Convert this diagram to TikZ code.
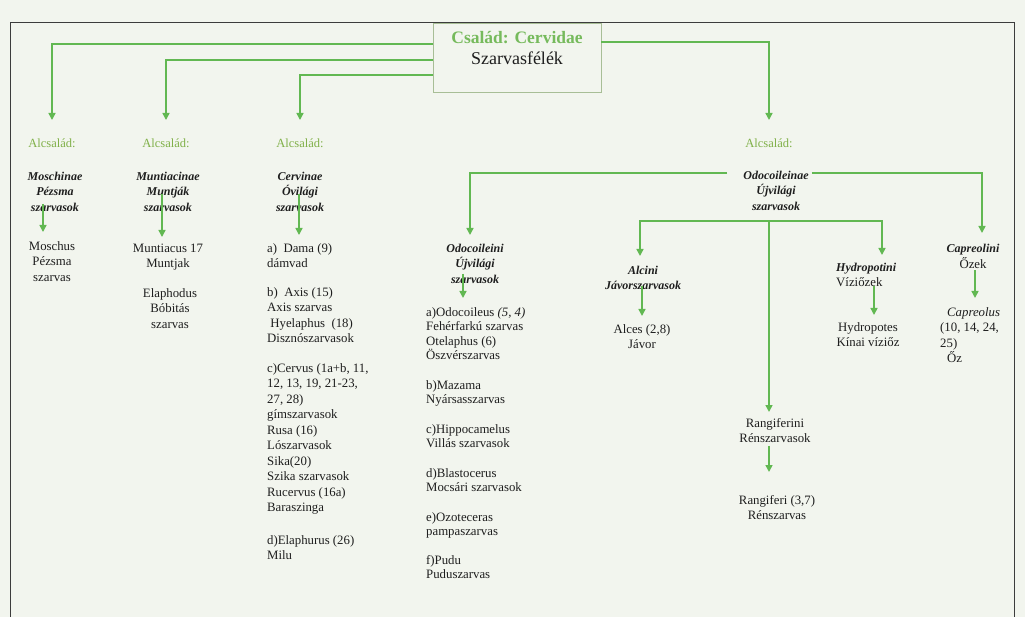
\documentclass[tikz,border=0pt]{standalone}
\usepackage{fontspec}
\setmainfont{Liberation Serif}
\usetikzlibrary{arrows.meta}
\definecolor{bgc}{RGB}{242,245,238}
\definecolor{arrgreen}{RGB}{98,184,82}
\definecolor{alcgreen}{RGB}{128,176,72}
\definecolor{famgreen}{RGB}{118,186,92}
\definecolor{boxc}{RGB}{168,190,150}
\definecolor{framec}{RGB}{60,60,60}
\definecolor{txtc}{RGB}{30,30,30}
\tikzset{
  txt/.style={font=\fontsize{12.8}{15.5}\selectfont, inner sep=0pt, anchor=north, align=center, text=txtc},
  txtl/.style={txt, anchor=north west, align=left},
  tight/.style={font=\fontsize{12.8}{14.5}\selectfont},
  head/.style={txt, font=\fontsize{12}{15.5}\selectfont\bfseries\itshape},
  alc/.style={txt, font=\fontsize{12.5}{15.5}\selectfont, text=alcgreen},
  ln/.style={draw=arrgreen, line width=1.5pt},
  arr/.style={ln, -{Triangle[width=7pt,length=7pt]}},
  fambox/.style={draw=boxc, line width=0.8pt, minimum width=168pt, minimum height=69pt, inner sep=0pt}
}
\begin{document}
\begin{tikzpicture}[x=1pt,y=-1pt]
\fill[bgc] (0,0) rectangle (1025,617);
\useasboundingbox (0,0) rectangle (1025,617);
% frame
\draw[framec, line width=1pt] (10,625) -- (10,23) -- (1014,23) -- (1014,625);
% family box
\node[fambox, fill=bgc] (fam) at (517,57.5) {};
\node[anchor=base, inner sep=0pt, text=famgreen, font=\fontsize{17.5}{20}\selectfont\bfseries] (famt1) at (517,44) {Család: Cervidae};
\node[anchor=base, inner sep=0pt, text=txtc, font=\fontsize{18}{20}\selectfont] (famt2) at (517,65) {Szarvasfélék};
% subfamily labels
\node[alc] (alc1) at (52,136) {\strut Alcsalád:};
\node[alc] (alc2) at (166,136) {\strut Alcsalád:};
\node[alc] (alc3) at (300,136) {\strut Alcsalád:};
\node[alc] (alc4) at (769,136) {\strut Alcsalád:};
% headings
\node[head] (h1) at (55,169) {\strut Moschinae\\Pézsma\\szarvasok};
\node[head] (h2) at (168,169) {\strut Muntiacinae\\Muntják\\szarvasok};
\node[head] (h3) at (300,169) {\strut Cervinae\\Óvilági\\szarvasok};
\node[head] (h4) at (776,168) {\strut Odocoileinae\\Újvilági\\szarvasok};
% column 1
\node[txt] (l1) at (52,239) {\strut Moschus\\Pézsma\\szarvas};
% column 2
\node[txt] (l2a) at (168,241) {\strut Muntiacus 17\\Muntjak};
\node[txt] (l2b) at (170,286) {\strut Elaphodus\\Bóbitás\\szarvas};
% column 3
\node[txtl] (l3a) at (267,241) {\strut a)\ \ Dama (9)\\dámvad};
\node[txtl] (l3b) at (267,285) {\strut b)\ \ Axis (15)\\Axis szarvas\\\ Hyelaphus\ \ (18)\\Disznószarvasok};
\node[txtl] (l3c) at (267,361) {\strut c)Cervus (1a+b, 11,\\12, 13, 19, 21-23,\\27, 28)\\gímszarvasok\\Rusa (16)\\Lószarvasok\\Sika(20)\\Szika szarvasok\\Rucervus (16a)\\Baraszinga};
\node[txtl] (l3d) at (267,533) {\strut d)Elaphurus (26)\\Milu};
% Odocoileini
\node[head] (h5) at (475,241) {\strut Odocoileini\\Újvilági\\szarvasok};
\node[txtl, tight] (l5a) at (426,306) {\strut a)Odocoileus \textit{(5, 4)}\\Fehérfarkú szarvas\\Otelaphus (6)\\Öszvérszarvas};
\node[txtl, tight] (l5b) at (426,379) {\strut b)Mazama\\Nyársasszarvas};
\node[txtl, tight] (l5c) at (426,423) {\strut c)Hippocamelus\\Villás szarvasok};
\node[txtl, tight] (l5d) at (426,467) {\strut d)Blastocerus\\Mocsári szarvasok};
\node[txtl, tight] (l5e) at (426,511) {\strut e)Ozoteceras\\pampaszarvas};
\node[txtl, tight] (l5f) at (426,554) {\strut f)Pudu\\Puduszarvas};
% Alcini
\node[head] (h6) at (643,263) {\strut Alcini\\Jávorszarvasok};
\node[txt] (l6) at (642,322) {\strut Alces (2,8)\\Jávor};
% Hydropotini
\node[txtl] (h7) at (836,260) {\strut{\fontsize{12}{15.5}\selectfont\textbf{\textit{Hydropotini}}}\\Víziőzek};
\node[txt] (l7) at (868,320) {\strut Hydropotes\\Kínai víziőz};
% Capreolini
\node[txt] (h8) at (973,241) {\strut{\fontsize{12}{15.5}\selectfont\textbf{\textit{Capreolini}}}\\Őzek};
\node[txtl] (l8) at (940,305) {\strut\hspace*{7pt}\textit{Capreolus}\\(10, 14, 24,\\25)\\\hspace*{7pt}Őz};
% Rangiferini
\node[txt] (h9) at (775,416) {\strut Rangiferini\\Rénszarvasok};
\node[txt] (l9) at (777,493) {\strut Rangiferi (3,7)\\Rénszarvas};
% connectors from family box
\draw[arr, shorten >=16pt] (fam.west |- 0,44) -| (alc1.north);
\draw[arr, shorten >=16pt] (fam.west |- 0,60) -| (alc2.north);
\draw[arr, shorten >=16pt] (fam.west |- 0,75) -| (alc3.north);
\draw[arr, shorten >=16pt] (fam.east |- 0,42) -| (alc4.north);
% inner arrows, old world
\draw[arr, shorten <=-7.5pt, shorten >=7pt] (h1.south -| 43,0) -- (l1.north -| 43,0);
\draw[arr, shorten <=-17.5pt, shorten >=4pt] (h2.south -| 162,0) -- (l2a.north -| 162,0);
\draw[arr, shorten <=-17.5pt, shorten >=6pt] (h3.south -| 299,0) -- (l3a.north -| 299,0);
% Odocoileinae
\coordinate (j) at (769,221);
\coordinate (hyd) at (882,255);
\draw[arr, shorten <=16pt, shorten >=6pt] (h4.west |- 0,173) -| (h5.north -| 470,0);
\draw[arr, shorten <=3pt, shorten >=8pt] (h4.east |- 0,173) -| (h8.north -| 982,0);
\draw[arr, shorten >=7pt] (j) -| (h6.north -| 640,0);
\draw[arr] (j) -| (hyd);
\draw[arr, shorten >=4pt] (j) -- (h9.north -| j);
\draw[arr, shorten <=-9.5pt, shorten >=8pt] (h5.south -| 463,0) -- (l5a.north -| 463,0);
\draw[arr, shorten <=-4pt, shorten >=6pt] (h6.south -| 642,0) -- (l6.north -| 642,0);
\draw[arr, shorten <=-1pt, shorten >=5pt] (h7.south -| 874,0) -- (l7.north -| 874,0);
\draw[arr, shorten <=1pt, shorten >=7pt] (h8.south -| 975,0) -- (l8.north -| 975,0);
\draw[arr, shorten <=3pt, shorten >=21pt] (h9.south -| 769,0) -- (l9.north -| 769,0);
\end{tikzpicture}
\end{document}
